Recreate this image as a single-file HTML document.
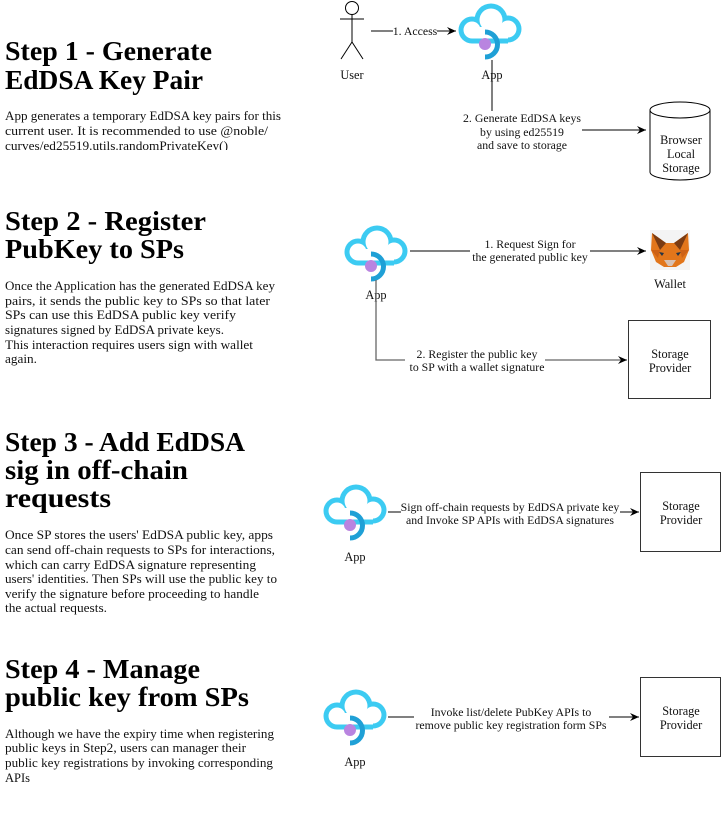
<!DOCTYPE html>
<html><head><meta charset="utf-8"><style>
html,body{margin:0;padding:0;background:#fff;}
svg{display:block;}
.h{font-family:"Liberation Serif",serif;font-weight:bold;font-size:27px;fill:#000;}
.p{font-family:"Liberation Serif",serif;font-size:12.5px;fill:#111;}
.l{font-family:"Liberation Serif",serif;font-size:11.8px;fill:#111;text-anchor:middle;}
.n{font-family:"Liberation Serif",serif;font-size:12.3px;fill:#111;text-anchor:middle;}
</style></head><body>
<svg width="722" height="838" viewBox="0 0 722 838" xmlns="http://www.w3.org/2000/svg">
<defs>
<marker id="a" markerWidth="10" markerHeight="10" refX="9" refY="5" orient="auto" markerUnits="userSpaceOnUse">
<path d="M0,1 L9,5 L0,9 L3,5 Z" fill="#000"/></marker>
<g id="cloud">
<g fill="#3ccbf2">
<circle cx="14" cy="27" r="13.5"/><circle cx="33" cy="17" r="16.5"/><circle cx="50" cy="26" r="13.5"/>
<rect x="14" y="24" width="36" height="16.5"/>
</g>
<g fill="#fff">
<circle cx="14" cy="27" r="8.5"/><circle cx="33" cy="17" r="11.5"/><circle cx="50" cy="26" r="8.5"/>
<rect x="14" y="24" width="36" height="11.5"/>
</g>
<path d="M27,29 A12.5,12.5 0 0 1 27,54" fill="none" stroke="#1fa0d6" stroke-width="5"/>
<circle cx="27" cy="41" r="6" fill="#b984e0"/>
</g>
</defs>
<rect width="722" height="838" fill="#fff"/>

<!-- Step 1 text -->
<text class="h" x="5" y="60" textLength="207" lengthAdjust="spacingAndGlyphs">Step 1 - Generate</text>
<text class="h" x="5" y="89" textLength="198" lengthAdjust="spacingAndGlyphs">EdDSA Key Pair</text>
<clipPath id="c1"><rect x="0" y="100" width="300" height="50"/></clipPath>
<g clip-path="url(#c1)">
<text class="p" x="5" y="120" textLength="276" lengthAdjust="spacingAndGlyphs">App generates a temporary EdDSA key pairs for this</text>
<text class="p" x="5" y="135" textLength="263" lengthAdjust="spacingAndGlyphs">current user. It is recommended to use @noble/</text>
<text class="p" x="5" y="150" textLength="223" lengthAdjust="spacingAndGlyphs">curves/ed25519.utils.randomPrivateKey()</text>
</g>

<!-- Step 2 text -->
<text class="h" x="5" y="230" textLength="201" lengthAdjust="spacingAndGlyphs">Step 2 - Register</text>
<text class="h" x="5" y="258" textLength="179" lengthAdjust="spacingAndGlyphs">PubKey to SPs</text>
<text class="p" x="5" y="290" textLength="270" lengthAdjust="spacingAndGlyphs">Once the Application has the generated EdDSA key</text>
<text class="p" x="5" y="305" textLength="265" lengthAdjust="spacingAndGlyphs">pairs, it sends the public key to SPs so that later</text>
<text class="p" x="5" y="319" textLength="231" lengthAdjust="spacingAndGlyphs">SPs can use this EdDSA public key verify</text>
<text class="p" x="5" y="334" textLength="219" lengthAdjust="spacingAndGlyphs">signatures signed by EdDSA private keys.</text>
<text class="p" x="5" y="349" textLength="248" lengthAdjust="spacingAndGlyphs">This interaction requires users sign with wallet</text>
<text class="p" x="5" y="363" textLength="32" lengthAdjust="spacingAndGlyphs">again.</text>

<!-- Step 3 text -->
<text class="h" x="5" y="451" textLength="240" lengthAdjust="spacingAndGlyphs">Step 3 - Add EdDSA</text>
<text class="h" x="5" y="479" textLength="183" lengthAdjust="spacingAndGlyphs">sig in off-chain</text>
<text class="h" x="5" y="507" textLength="106" lengthAdjust="spacingAndGlyphs">requests</text>
<text class="p" x="5" y="539" textLength="268" lengthAdjust="spacingAndGlyphs">Once SP stores the users' EdDSA public key, apps</text>
<text class="p" x="5" y="554" textLength="270" lengthAdjust="spacingAndGlyphs">can send off-chain requests to SPs for interactions,</text>
<text class="p" x="5" y="569" textLength="251" lengthAdjust="spacingAndGlyphs">which can carry EdDSA signature representing</text>
<text class="p" x="5" y="583" textLength="272" lengthAdjust="spacingAndGlyphs">users' identities. Then SPs will use the public key to</text>
<text class="p" x="5" y="598" textLength="254" lengthAdjust="spacingAndGlyphs">verify the signature before proceeding to handle</text>
<text class="p" x="5" y="612" textLength="102" lengthAdjust="spacingAndGlyphs">the actual requests.</text>

<!-- Step 4 text -->
<text class="h" x="5" y="678" textLength="195" lengthAdjust="spacingAndGlyphs">Step 4 - Manage</text>
<text class="h" x="5" y="706" textLength="244" lengthAdjust="spacingAndGlyphs">public key from SPs</text>
<text class="p" x="5" y="738" textLength="269" lengthAdjust="spacingAndGlyphs">Although we have the expiry time when registering</text>
<text class="p" x="5" y="752" textLength="241" lengthAdjust="spacingAndGlyphs">public keys in Step2, users can manager their</text>
<text class="p" x="5" y="767" textLength="268" lengthAdjust="spacingAndGlyphs">public key registrations by invoking corresponding</text>
<text class="p" x="5" y="782" textLength="25" lengthAdjust="spacingAndGlyphs">APIs</text>

<!-- Diagram 1 -->
<g stroke="#000" stroke-width="1" fill="none">
<circle cx="352" cy="8" r="6.5"/>
<line x1="352" y1="14.5" x2="352" y2="42"/>
<line x1="340" y1="19" x2="364" y2="19"/>
<line x1="352" y1="42" x2="341" y2="59"/>
<line x1="352" y1="42" x2="363" y2="59"/>
<line x1="371" y1="31" x2="393" y2="31"/>
<line x1="437" y1="31" x2="456" y2="31" marker-end="url(#a)"/>
<line x1="492" y1="60" x2="492" y2="111"/>
<line x1="582" y1="130" x2="646" y2="130" marker-end="url(#a)"/>
<path d="M650,110 A30,8 0 0 1 710,110 V172 A30,8 0 0 1 650,172 Z"/>
<path d="M650,110 A30,8 0 0 0 710,110"/>
</g>
<text class="n" x="352" y="79">User</text>
<text class="l" x="415" y="35">1. Access</text>
<use href="#cloud" x="458" y="3"/>
<text class="n" x="492" y="79">App</text>
<text class="l" x="522" y="122">2. Generate EdDSA keys</text>
<text class="l" x="522" y="136">by using ed25519</text>
<text class="l" x="522" y="149">and save to storage</text>
<text class="n" x="681" y="144">Browser</text>
<text class="n" x="681" y="158">Local</text>
<text class="n" x="681" y="172">Storage</text>

<!-- Diagram 2 -->
<use href="#cloud" x="344" y="225"/>
<text class="n" x="376" y="299">App</text>
<g stroke="#000" stroke-width="1" fill="none">
<line x1="410" y1="251" x2="470" y2="251"/>
<line x1="590" y1="251" x2="646" y2="251" marker-end="url(#a)"/>
</g>
<g stroke="#666" stroke-width="1.3" fill="none">
<path d="M376,280 V360 H405"/>
<line x1="545" y1="360" x2="627" y2="360" marker-end="url(#a)"/>
</g>
<text class="l" x="530" y="248">1. Request Sign for</text>
<text class="l" x="530" y="261">the generated public key</text>
<text class="l" x="477" y="358">2. Register the public key</text>
<text class="l" x="477" y="371">to SP with a wallet signature</text>
<!-- fox -->
<g>
<rect x="650" y="230" width="40" height="40" fill="#f4f4f4"/>
<polygon points="652,233 666,243 674,243 688,233 689,250 684,262 676,267 664,267 656,262 651,250" fill="#e2761b"/>
<polygon points="652,233 666,243 660,250" fill="#7a3b12"/>
<polygon points="688,233 674,243 680,250" fill="#7a3b12"/>
<polygon points="664,260 676,260 672,266 668,266" fill="#d7c1b3"/>
<polygon points="659,252 664,253 662,256" fill="#233447"/>
<polygon points="681,252 676,253 678,256" fill="#233447"/>
<polygon points="651,250 660,250 658,258" fill="#cd6116"/>
<polygon points="689,250 680,250 682,258" fill="#cd6116"/>
</g>
<text class="n" x="670" y="288">Wallet</text>
<rect x="628.5" y="320.5" width="82" height="78" fill="none" stroke="#333" stroke-width="1"/>
<text class="n" x="670" y="358">Storage</text>
<text class="n" x="670" y="372">Provider</text>

<!-- Diagram 3 -->
<use href="#cloud" x="323" y="484"/>
<text class="n" x="355" y="561">App</text>
<g stroke="#000" stroke-width="1" fill="none">
<line x1="388" y1="512" x2="401" y2="512"/>
<line x1="620" y1="512" x2="639" y2="512" marker-end="url(#a)"/>
</g>
<text class="l" x="510" y="511">Sign off-chain requests by EdDSA private key</text>
<text class="l" x="510" y="524">and Invoke SP APIs with EdDSA signatures</text>
<rect x="640.5" y="472.5" width="80" height="79" fill="none" stroke="#333" stroke-width="1"/>
<text class="n" x="681" y="510">Storage</text>
<text class="n" x="681" y="524">Provider</text>

<!-- Diagram 4 -->
<use href="#cloud" x="323" y="689"/>
<text class="n" x="355" y="766">App</text>
<g stroke="#000" stroke-width="1" fill="none">
<line x1="388" y1="717" x2="414" y2="717"/>
<line x1="609" y1="717" x2="639" y2="717" marker-end="url(#a)"/>
</g>
<text class="l" x="511" y="716">Invoke list/delete PubKey APIs to</text>
<text class="l" x="511" y="729">remove public key registration form SPs</text>
<rect x="640.5" y="677.5" width="80" height="79" fill="none" stroke="#333" stroke-width="1"/>
<text class="n" x="681" y="715">Storage</text>
<text class="n" x="681" y="729">Provider</text>
</svg>
</body></html>
